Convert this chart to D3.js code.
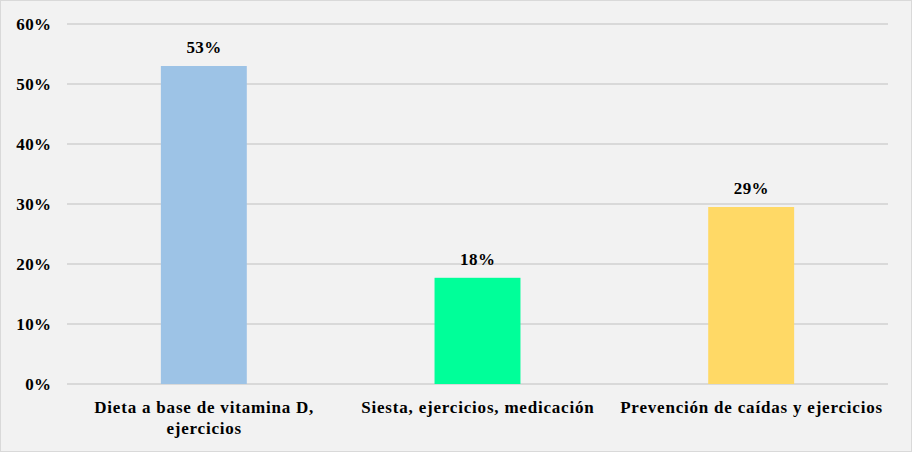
<!DOCTYPE html>
<html><head><meta charset="utf-8">
<script src="https://cdn.jsdelivr.net/npm/d3@7"></script>
<style>
html,body{margin:0;padding:0;background:#fff;}
svg{display:block;}
text{font-family:"Liberation Serif","Times New Roman",serif;font-weight:bold;fill:#000;}
</style></head>
<body>
<svg id="chart" width="912" height="452"></svg>
<script>
const categories = [["Dieta a base de vitamina D,", "ejercicios"], ["Siesta, ejercicios, medicación"], ["Prevención de caídas y ejercicios"]];
const values = [0.53, 0.177, 0.295];
const labels = ["53%", "18%", "29%"];
const colors = ["#9dc3e6", "#00ff99", "#ffd966"];
const yTicks = [0, 0.1, 0.2, 0.3, 0.4, 0.5, 0.6];

(function() {
const svg = d3.select("#chart");
const W = 912, H = 452;
svg.append("rect").attr("x", 0.5).attr("y", 0.5).attr("width", W - 1).attr("height", H - 1)
  .attr("fill", "#f2f2f2").attr("stroke", "#d9d9d9");

const mLeft = 67, mRight = 888, mTop = 24, mBottom = 384;
const x = d3.scaleBand().domain(d3.range(categories.length)).range([mLeft, mRight])
  .paddingInner(0.686).paddingOuter(0.343);
const y = d3.scaleLinear().domain([0, 0.6]).range([mBottom, mTop]);

svg.append("g").selectAll("line").data(yTicks).join("line")
  .attr("x1", mLeft).attr("x2", mRight)
  .attr("y1", d => Math.round(y(d))).attr("y2", d => Math.round(y(d)))
  .attr("stroke", "#d9d9d9").attr("stroke-width", 2);

svg.append("g").selectAll("text").data(yTicks).join("text")
  .attr("x", 51.5).attr("y", d => y(d)).attr("dy", "0.35em")
  .attr("text-anchor", "end").attr("font-size", 17).attr("letter-spacing", 0.4)
  .text(d => d3.format(".0%")(d));

svg.append("g").selectAll("rect").data(values).join("rect")
  .attr("x", (d, i) => x(i)).attr("width", x.bandwidth())
  .attr("y", d => y(d)).attr("height", d => y(0) - y(d))
  .attr("fill", (d, i) => colors[i]);

svg.append("g").selectAll("text").data(values).join("text")
  .attr("x", (d, i) => x(i) + x.bandwidth() / 2 + 0.2).attr("y", d => y(d) - 13)
  .attr("text-anchor", "middle").attr("font-size", 17).attr("letter-spacing", 0.4)
  .text((d, i) => labels[i]);

const cat = svg.append("g").selectAll("text").data(categories).join("text")
  .attr("x", (d, i) => x(i) + x.bandwidth() / 2 + 0.4).attr("y", 413)
  .attr("text-anchor", "middle").attr("font-size", 17).attr("letter-spacing", 0.8);
cat.selectAll("tspan").data(d => d).join("tspan")
  .attr("x", function() { return d3.select(this.parentNode).attr("x"); })
  .attr("dy", (d, j) => j === 0 ? 0 : 21)
  .text(d => d);
})();
</script>
</body></html>
